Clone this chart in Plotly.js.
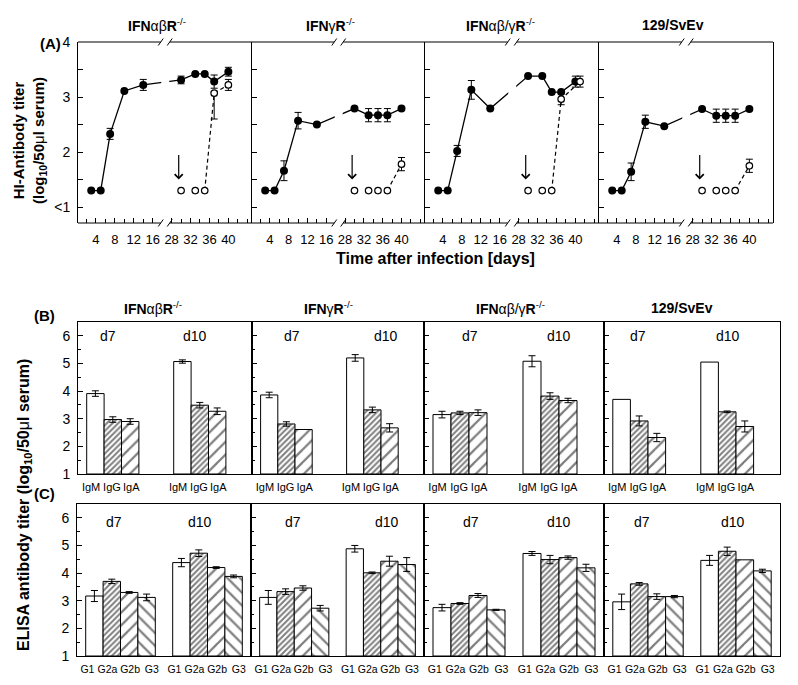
<!DOCTYPE html>
<html>
<head>
<meta charset="utf-8">
<script src="https://cdn.plot.ly/plotly-3.0.1.min.js"></script>
<style>body{margin:0;background:#fff}</style>
</head>
<body>
<div id="myPlot" style="width:798px;height:685px"></div>
<script>
// strains, one column each
var strainNames = ['<b>IFN</b>αβ<b>R</b><sup>-/-</sup>', '<b>IFN</b>γ<b>R</b><sup>-/-</sup>',
                   '<b>IFN</b>αβ/γ<b>R</b><sup>-/-</sup>', '<b>129/SvEv</b>'];

// (A) HI titer, filled = primary infection, open = after transfer (arrow)
var daysFilled = [3, 5, 7, 10, 14, 30, 33, 35, 37, 40];
var hiFilled = [
  [1.3, 1.3, 2.33, 3.11, 3.22, 3.31, 3.42, 3.42, 3.28, 3.46],
  [1.3, 1.3, 1.66, 2.57, 2.50, 2.79, 2.67, 2.67, 2.67, 2.79],
  [1.3, 1.3, 2.02, 3.13, 2.79, 3.38, 3.38, 3.09, 3.09, 3.28],
  [1.3, 1.3, 1.64, 2.55, 2.47, 2.78, 2.66, 2.66, 2.66, 2.78]
];
var hiFilledErr = [
  [null, null, 0.10, null, 0.10, 0.07, null, null, 0.12, 0.08],
  [null, null, 0.18, 0.15, null, null, 0.12, 0.12, 0.12, null],
  [null, null, 0.10, 0.17, null, null, null, null, null, 0.10],
  [null, null, 0.16, 0.12, null, null, 0.12, 0.12, 0.12, null]
];
var daysOpen = [
  [30, 33, 35, 37, 40],
  [30, 33, 35, 37, 40],
  [30, 33, 35, 37, 41],
  [30, 33, 35, 37, 40]
];
var hiOpen = [
  [1.3, 1.3, 1.3, 3.07, 3.22],
  [1.3, 1.3, 1.3, 1.3, 1.78],
  [1.3, 1.3, 1.3, 2.96, 3.28],
  [1.3, 1.3, 1.3, 1.3, 1.75]
];
var hiOpenErrUp = [
  [null, null, null, 0.02, 0.10],
  [null, null, null, null, 0.12],
  [null, null, null, 0.10, 0.10],
  [null, null, null, null, 0.12]
];
var hiOpenErrDown = [
  [null, null, null, 0.47, 0.10],
  [null, null, null, null, 0.12],
  [null, null, null, 0.10, 0.10],
  [null, null, null, null, 0.12]
];
var dashStart = [2, 3, 2, 3];
var transferDay = 29.5;
var dayTicks = [4, 8, 12, 16, 28, 32, 36, 40];

// (B) ELISA by isotype, [d7, d10] per strain
var isoB = ['IgM', 'IgG', 'IgA'];
var bIgM = [[3.91, 5.07], [3.86, 5.20], [3.15, 5.08], [3.70, 5.05]];
var bIgMErr = [[0.10, 0.06], [0.10, 0.12], [0.12, 0.20], [null, null]];
var bIgG = [[2.97, 3.49], [2.81, 3.32], [3.21, 3.82], [2.92, 3.25]];
var bIgGErr = [[0.10, 0.10], [0.08, 0.10], [0.06, 0.12], [0.18, 0.03]];
var bIgA = [[2.90, 3.27], [2.61, 2.67], [3.22, 3.66], [2.32, 2.72]];
var bIgAErr = [[0.10, 0.12], [null, 0.15], [0.10, 0.08], [0.15, 0.20]];

// (C) ELISA by IgG subclass
var isoC = ['G1', 'G2a', 'G2b', 'G3'];
var cG1 = [[3.17, 4.38], [3.12, 4.88], [2.75, 4.71], [2.96, 4.46]];
var cG1Err = [[0.20, 0.15], [0.25, 0.12], [0.12, 0.07], [0.28, 0.18]];
var cG2a = [[3.70, 4.72], [3.33, 4.01], [2.90, 4.49], [3.61, 4.79]];
var cG2aErr = [[0.08, 0.12], [0.10, 0.03], [0.03, 0.15], [0.05, 0.15]];
var cG2b = [[3.30, 4.20], [3.46, 4.43], [3.19, 4.56], [3.15, 4.48]];
var cG2bErr = [[0.03, 0.03], [0.08, 0.18], [0.07, 0.06], [0.10, null]];
var cG3 = [[3.12, 3.88], [2.73, 4.31], [2.67, 4.19], [3.15, 4.08]];
var cG3Err = [[0.12, 0.05], [0.10, 0.25], [0.02, 0.13], [0.04, 0.06]];
var groupDays = ['d7', 'd10'];

// ---- geometry (pixels of the 798x685 page)
var W = 798, H = 685;
function px(x){ return x / W; }
function py(y){ return 1 - y / H; }
var colsA = [78, 252, 425, 599, 773], rowA = [42, 223];
var colsB = [78, 252, 424, 604, 780], rowB = [322, 474];
var colsC = [77, 251, 424, 604, 780], rowC = [504, 656];
var groupStart = [1, 6];
var labShiftB = [-0.25, -0.05, 0.06];
var labShiftC = [-0.4, -0.25, 0.05, 0.3];
var dLabB = [[1.7, 6.75], [2.3, 7.8], [2.55, 7.5], [1.95, 7.05]];
var dLabC = [[2.1, 7.05], [2.45, 7.85], [2.6, 7.5], [2.14, 7.35]];
var titleXA = [157, 330, 500, 673];
var titleXB = [153, 328, 510, 682];
var fam = 'Arial, "Liberation Sans", sans-serif';

// broken time axis: days after the break are moved left by 8
function dayPos(d){ return d > 20 ? d - 8 : d; }
function errs(a){ return a.map(function(v){ return v === null ? NaN : v; }); }
function sfx(n){ return n === 1 ? '' : String(n); }

var data = [], shapes = [], ann = [];
var layout = {
  width: W, height: H, margin: {l: 0, r: 0, t: 0, b: 0},
  paper_bgcolor: 'white', plot_bgcolor: 'white', showlegend: false,
  barmode: 'overlay', font: {family: fam, color: 'black'}
};

function seg(x0, y0, x1, y1){
  shapes.push({type: 'line', xref: 'paper', yref: 'paper', x0: px(x0), y0: py(y0), x1: px(x1), y1: py(y1),
               line: {color: 'black', width: 1}});
}
function label(x, y, text, size, angle){
  ann.push({xref: 'paper', yref: 'paper', x: px(x), y: py(y), xanchor: 'center', yanchor: 'middle',
            text: text, showarrow: false, font: {size: size}, textangle: angle || 0});
}

// ---- panel A
for (var i = 0; i < 4; i++){
  var n = i + 1, xa = 'x' + sfx(n), ya = 'y' + sfx(n);
  var x0 = colsA[i], x1 = colsA[i + 1];
  layout['xaxis' + sfx(n)] = {
    domain: [px(x0), px(x1)], range: [0.2, 37], anchor: ya, showline: false,
    showgrid: false, zeroline: false, ticks: 'inside', ticklen: 5, tickcolor: 'black',
    tickmode: 'array', tickvals: dayTicks.map(dayPos), ticktext: dayTicks.map(String),
    minor: {dtick: 2, tick0: 0, ticks: 'inside', ticklen: 4, tickcolor: 'black'},
    tickfont: {size: 13}, tickangle: 0, ticklabelstandoff: 7
  };
  layout['yaxis' + sfx(n)] = {
    domain: [py(rowA[1]), py(rowA[0])], range: [0.71, 4], anchor: xa,
    showline: true, linecolor: 'black', linewidth: 1, mirror: i === 3,
    showgrid: false, zeroline: false, ticks: 'inside', ticklen: 5, tickcolor: 'black',
    tickmode: 'array', tickvals: [1, 2, 3, 4], ticktext: ['<1', '2', '3', '4'],
    minor: {dtick: 0.5, tick0: 0, ticks: 'inside', ticklen: 5, tickcolor: 'black'},
    showticklabels: i === 0, tickfont: {size: 14}, ticklabelstandoff: 4
  };
  data.push({
    type: 'scatter', mode: 'lines+markers', xaxis: xa, yaxis: ya,
    x: daysFilled.map(dayPos), y: hiFilled[i],
    line: {color: 'black', width: 1.3}, marker: {color: 'black', size: 8},
    error_y: {type: 'data', array: errs(hiFilledErr[i]), color: 'black', thickness: 1, width: 3.5}
  });
  data.push({
    type: 'scatter', mode: 'lines', xaxis: xa, yaxis: ya,
    x: daysOpen[i].slice(dashStart[i]).map(dayPos), y: hiOpen[i].slice(dashStart[i]),
    line: {color: 'black', width: 1.2, dash: '4px,3px'}
  });
  data.push({
    type: 'scatter', mode: 'markers', xaxis: xa, yaxis: ya,
    x: daysOpen[i].map(dayPos), y: hiOpen[i],
    marker: {color: 'white', size: 6.5, line: {color: 'black', width: 1.2}},
    error_y: {type: 'data', symmetric: false, array: errs(hiOpenErrUp[i]), arrayminus: errs(hiOpenErrDown[i]),
              color: 'black', thickness: 1, width: 3.5}
  });
  ann.push({xref: xa, yref: ya, x: dayPos(transferDay), y: 1.5, ax: 0, ay: -26, text: '',
            showarrow: true, arrowhead: 4, arrowsize: 1.3, arrowwidth: 1.2, arrowcolor: 'black', standoff: 0});

  // frame with the axis break
  var s = (x1 - x0) / 36.8;
  var gl = x0 + (17.7 - 0.2) * s, gr = x0 + (19.6 - 0.2) * s;
  shapes.push({type: 'rect', xref: 'paper', yref: 'paper', x0: px(gl + 0.5), x1: px(gr - 0.5),
               y0: py(rowA[1] + 1), y1: py(rowA[0] - 1), fillcolor: 'white', line: {width: 0}});
  [rowA[0], rowA[1]].forEach(function(yy){
    seg(x0, yy, gl, yy);
    seg(gr, yy, x1, yy);
    seg(gl - 2.5, yy + 3.5, gl + 2.5, yy - 3.5);
    seg(gr - 2.5, yy + 3.5, gr + 2.5, yy - 3.5);
  });
  label(titleXA[i], 25, strainNames[i], 14);
}

// ---- panels B and C
var pats = [
  null,
  {shape: '/', size: 4, solidity: 0.5, fgcolor: 'black', fillmode: 'overlay'},
  {shape: '/', size: 9, solidity: 0.25, fgcolor: 'black', fillmode: 'overlay'},
  {shape: '\\', size: 9, solidity: 0.25, fgcolor: 'black', fillmode: 'overlay'}
];
var panelB = {cols: colsB, row: rowB, first: 5, iso: isoB, shift: labShiftB, fs: 11, vals: [bIgM, bIgG, bIgA],
              err: [bIgMErr, bIgGErr, bIgAErr], pat: [0, 1, 2], dlab: dLabB, dy: 6.0};
var panelC = {cols: colsC, row: rowC, first: 9, iso: isoC, shift: labShiftC, fs: 10.5, vals: [cG1, cG2a, cG2b, cG3],
              err: [cG1Err, cG2aErr, cG2bErr, cG3Err], pat: [0, 1, 2, 3], dlab: dLabC, dy: 5.85};

[panelB, panelC].forEach(function(P){
  for (var i = 0; i < 4; i++){
    var n = P.first + i, xa = 'x' + sfx(n), ya = 'y' + sfx(n);
    var tv = [], tt = [];
    groupStart.forEach(function(g){
      P.iso.forEach(function(name, k){ tv.push(g + k + P.shift[k]); tt.push(name); });
    });
    layout['xaxis' + sfx(n)] = {
      domain: [px(P.cols[i]), px(P.cols[i + 1])], range: [0, 10], anchor: ya,
      showline: true, linecolor: 'black', linewidth: 1, mirror: true,
      showgrid: false, zeroline: false, ticks: '', tickmode: 'array', tickvals: tv, ticktext: tt,
      tickfont: {size: P.fs}, tickangle: 0, ticklabelstandoff: 3
    };
    layout['yaxis' + sfx(n)] = {
      domain: [py(P.row[1]), py(P.row[0])], range: [1, 6.5], anchor: xa,
      showline: true, linecolor: 'black', linewidth: 1, mirror: true,
      showgrid: false, zeroline: false, ticks: 'inside', ticklen: 5, tickcolor: 'black',
      tickmode: 'array', tickvals: [1, 2, 3, 4, 5, 6],
      minor: {dtick: 0.5, tick0: 0, ticks: 'inside', ticklen: 3, tickcolor: 'black'},
      showticklabels: i === 0, tickfont: {size: 14}, ticklabelstandoff: 4
    };
    P.vals.forEach(function(v, k){
      var mk = {color: 'white', line: {color: 'black', width: 1}};
      if (pats[P.pat[k]]) mk.pattern = pats[P.pat[k]];
      data.push({
        type: 'bar', xaxis: xa, yaxis: ya, base: 1,
        x: groupStart.map(function(g){ return g + k; }),
        y: v[i].map(function(t){ return t - 1; }),
        width: 1, marker: mk,
        error_y: {type: 'data', array: errs(P.err[k][i]), color: 'black', thickness: 1, width: 3.5}
      });
    });
    groupDays.forEach(function(d, j){
      ann.push({xref: xa, yref: ya, x: P.dlab[i][j], y: P.dy, xanchor: 'center', yanchor: 'middle',
                text: d, showarrow: false, font: {size: 14}});
    });
  }
});
for (var i = 0; i < 4; i++) label(titleXB[i], 308, strainNames[i], 14);

// panel letters and axis titles
label(50, 44, '<b>(A)</b>', 15);
label(44, 316, '<b>(B)</b>', 15);
label(44, 493, '<b>(C)</b>', 15);
label(29, 141, '<b>HI-Antibody titer</b><br><b>(log<sub>10</sub>/50</b>μ<b>l serum)</b>', 15, -90);
label(435, 258, '<b>Time after infection [days]</b>', 16);
label(24, 505, '<b>ELISA antibody titer (log<sub>10</sub>/50</b>μ<b>l serum)</b>', 16, -90);

layout.shapes = shapes;
layout.annotations = ann;
Plotly.newPlot('myPlot', data, layout, {staticPlot: true});
</script>
</body>
</html>
